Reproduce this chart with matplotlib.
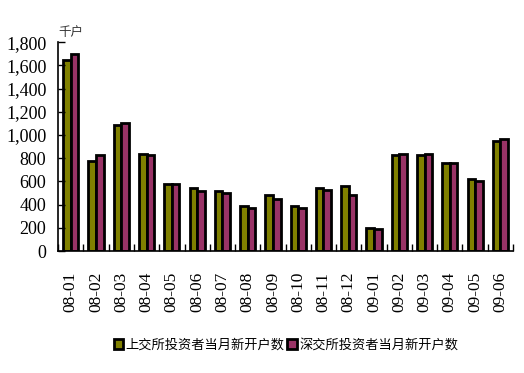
import numpy as np
import matplotlib
matplotlib.use('Agg')
import matplotlib.pyplot as plt
from matplotlib.ticker import FuncFormatter

# monthly new accounts (thousand households)
months = ['08-01', '08-02', '08-03', '08-04', '08-05', '08-06', '08-07', '08-08', '08-09',
          '08-10', '08-11', '08-12', '09-01', '09-02', '09-03', '09-04', '09-05', '09-06']
sh_new = [1645, 775, 1087, 834, 578, 540, 515, 385, 480, 388, 543, 561, 198, 825, 828, 756, 618, 949]
sz_new = [1696, 825, 1101, 825, 578, 515, 500, 368, 446, 371, 526, 483, 190, 834, 834, 756, 601, 966]
series_names = ['上交所投资者当月新开户数', '深交所投资者当月新开户数']

plt.rcParams['font.family'] = ['Liberation Serif', 'Noto Sans CJK SC']

fig = plt.figure(figsize=(5.24, 3.73), dpi=100)
ax = fig.add_axes([0.111, 0.327, 0.868, 0.56])

x = np.arange(len(months))
w = 0.3
ax.bar(x - w / 2, sh_new, w, color='#808000', edgecolor='black', linewidth=2.0,
       label=series_names[0])
ax.bar(x + w / 2, sz_new, w, color='#993366', edgecolor='black', linewidth=2.0,
       label=series_names[1])

ax.set_xlim(-0.5, len(months) - 0.5)
ax.set_ylim(0, 1800)
ax.set_yticks(range(0, 1801, 200))
ax.yaxis.set_major_formatter(FuncFormatter(lambda v, p: f'{int(v):,}'))
ax.set_xticks(x)
ax.set_xticklabels(months, rotation=90)
ax.set_xticks(np.arange(-0.5, len(months)), minor=True)
ax.tick_params(axis='x', which='major', length=0, pad=15, labelsize=12.5)
ax.tick_params(axis='x', which='minor', direction='in', length=5, width=1)
ax.tick_params(axis='y', direction='in', length=5, width=1, labelsize=13, pad=8.5)

for s in ['top', 'right']:
    ax.spines[s].set_visible(False)
for s in ['left', 'bottom']:
    ax.spines[s].set_linewidth(1.2)

ax.text(0.0, 1.03, '千户', transform=ax.transAxes, fontsize=9, color='#333333',
        family=['Noto Sans CJK SC'])

fig.legend(loc='center', bbox_to_anchor=(0.546, 0.075), ncol=2, frameon=False,
           handlelength=0.7, handleheight=0.7, handletextpad=0.2, columnspacing=0.2,
           prop={'family': 'Noto Sans CJK SC', 'size': 9.5})

fig.savefig('out.png', dpi=100)
